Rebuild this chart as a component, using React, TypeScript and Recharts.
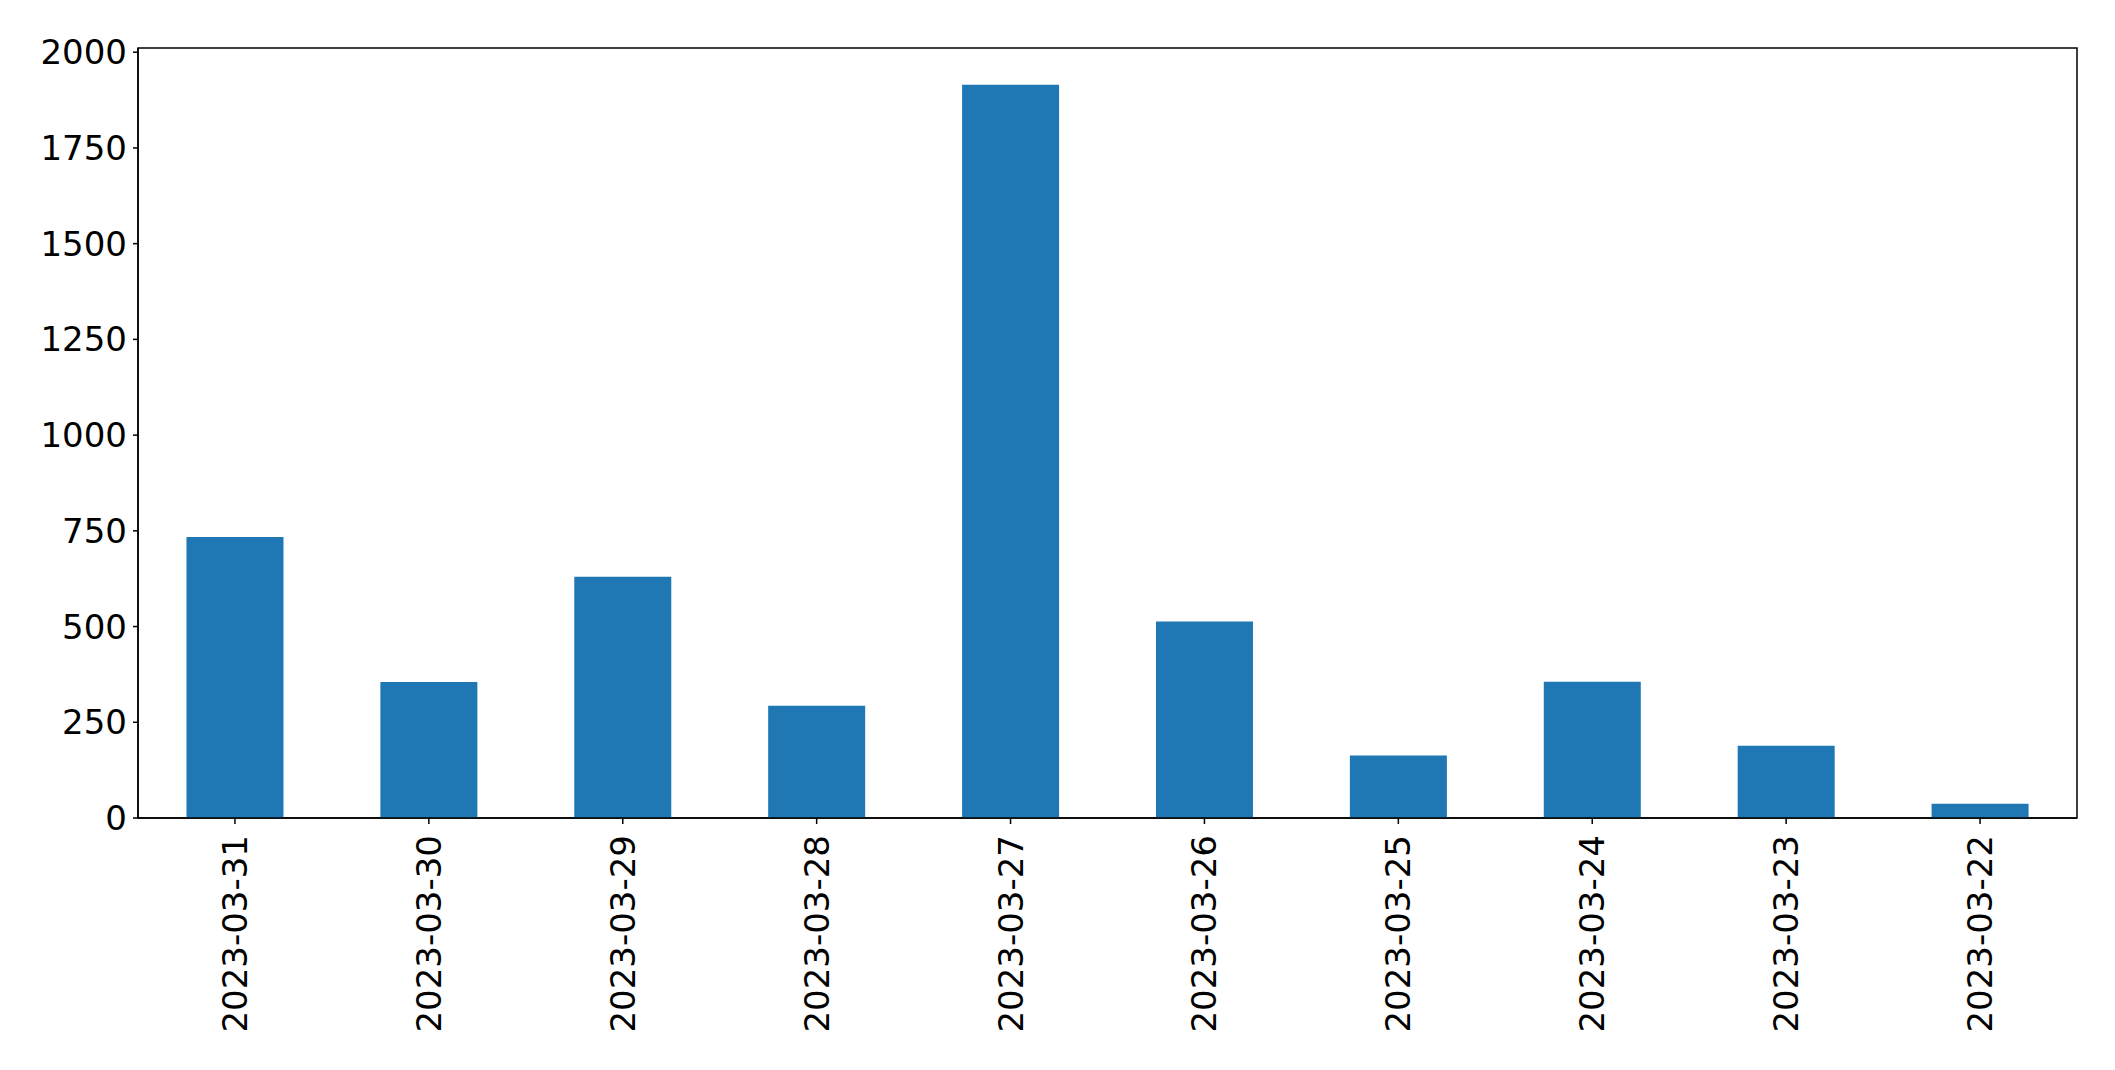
import { Bar, BarChart, ReferenceArea, XAxis, YAxis } from "recharts";

const dates = [
  "2023-03-31",
  "2023-03-30",
  "2023-03-29",
  "2023-03-28",
  "2023-03-27",
  "2023-03-26",
  "2023-03-25",
  "2023-03-24",
  "2023-03-23",
  "2023-03-22",
];
const counts = [734, 355, 630, 293, 1915, 513, 163, 356, 189, 37];
const yTicks = [0, 250, 500, 750, 1000, 1250, 1500, 1750, 2000];
const yMax = 2011;

const data = dates.map((date, i) => ({ date, count: counts[i] }));

const FONT = "'DejaVu Sans', sans-serif";

function DateTick(props: any) {
  const { x, y, payload } = props;
  return (
    <g transform={`translate(${x},${y}) rotate(-90)`}>
      <text
        x={0}
        y={0}
        textAnchor="end"
        dominantBaseline="central"
        fontFamily={FONT}
        fontSize={34}
        fill="#000"
      >
        {payload.value}
      </text>
    </g>
  );
}

export default function App() {
  return (
    <div style={{ width: 2115, height: 1070, background: "#fff" }}>
      <style>{`body{margin:0}`}</style>
      <BarChart
        width={2115}
        height={1070}
        data={data}
        margin={{ top: 48, right: 38, left: 0, bottom: 0 }}
        barCategoryGap="25%"
      >
        <XAxis
          dataKey="date"
          height={252}
          tick={<DateTick />}
          tickSize={6}
          tickMargin={11}
          interval={0}
          axisLine={{ stroke: "#000", strokeWidth: 1.5 }}
          tickLine={{ stroke: "#000", strokeWidth: 1.5 }}
        />
        <YAxis
          width={138}
          domain={[0, yMax]}
          ticks={yTicks}
          interval={0}
          allowDataOverflow
          tickSize={5}
          tickMargin={6}
          tick={{ fontFamily: FONT, fontSize: 34, fill: "#000" }}
          axisLine={{ stroke: "#000", strokeWidth: 1.5 }}
          tickLine={{ stroke: "#000", strokeWidth: 1.5 }}
        />
        <Bar dataKey="count" fill="#1f77b4" isAnimationActive={false} />
        <ReferenceArea
          y1={0}
          y2={yMax}
          fill="none"
          stroke="#000"
          strokeWidth={1.5}
          ifOverflow="visible"
        />
      </BarChart>
    </div>
  );
}
